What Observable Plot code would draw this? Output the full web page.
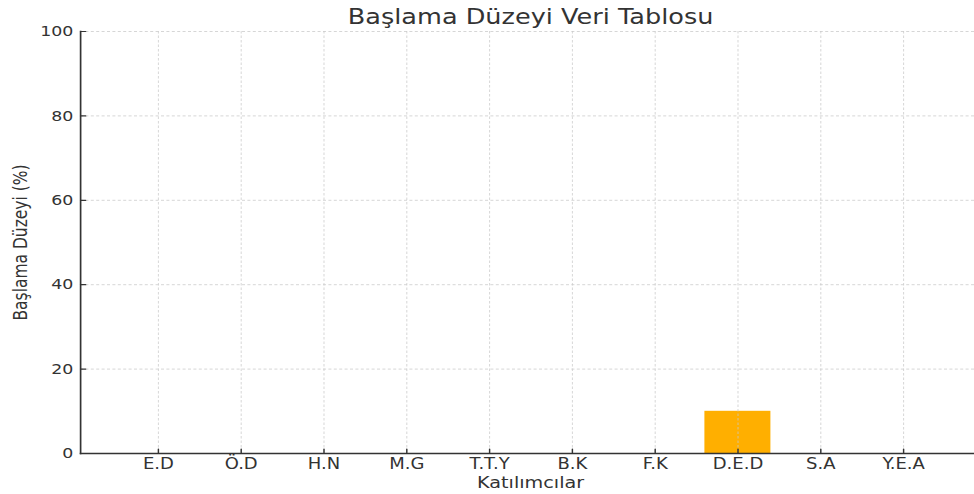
<!DOCTYPE html>
<html>
<head>
<meta charset="utf-8">
<script src="https://cdn.jsdelivr.net/npm/d3@7"></script>
<script src="https://cdn.jsdelivr.net/npm/@observablehq/plot@0.6"></script>
<style>
  html, body { margin: 0; padding: 0; overflow: hidden; background: #fff; }
  #wrap { width: 817px; transform: scaleX(1.2); transform-origin: 0 0; }
</style>
</head>
<body>
<div id="wrap"></div>
<script>
const title = "Başlama Düzeyi Veri Tablosu";
const xLabel = "Katılımcılar";
const yLabel = "Başlama Düzeyi (%)";
const categories = ["E.D", "Ö.D", "H.N", "M.G", "T.T.Y", "B.K", "F.K", "D.E.D", "S.A", "Y.E.A"];
const values = [0, 0, 0, 0, 0, 0, 0, 10, 0, 0];
const yTicks = [0, 20, 40, 60, 80, 100];

const data = categories.map((c, i) => ({category: c, value: values[i]}));
const ink = "#333";
const gridStyle = {stroke: "#c8c8c8", strokeOpacity: 0.85, strokeWidth: 0.8, strokeDasharray: "2.5,2"};
const inwardTick = {draw(context, l) { context.moveTo(0, 0); context.lineTo(0, -l); }};

const chart = Plot.plot({
  width: 817,
  height: 494,
  marginLeft: 66.67,
  marginRight: 0.33,
  marginTop: 31,
  marginBottom: 41,
  style: {fontFamily: "DejaVu Sans", color: ink, background: "#fff"},
  x: {type: "band", domain: categories, paddingInner: 0.2, paddingOuter: 0.49, label: null},
  y: {domain: [0, 100], label: null},
  marks: [
    Plot.barY(data, {x: "category", y: "value", fill: "#FFAF00"}),
    Plot.gridX(categories, {...gridStyle}),
    Plot.gridY(yTicks, {...gridStyle}),
    Plot.frame({anchor: "left", stroke: ink, strokeWidth: 1.4}),
    Plot.frame({anchor: "bottom", stroke: ink, strokeWidth: 1.4}),
    Plot.vector(categories, {x: (d) => d, frameAnchor: "bottom", anchor: "start", rotate: 0, length: 4.5, shape: inwardTick, stroke: ink, strokeWidth: 1.2}),
    Plot.vector(yTicks, {y: (d) => d, frameAnchor: "left", anchor: "start", rotate: 90, length: 4.2, shape: inwardTick, stroke: ink, strokeWidth: 1.2}),
    Plot.axisY(yTicks, {tickSize: 0, tickPadding: 6, fontSize: 14.5, fill: ink, label: null}),
    Plot.axisX(categories, {tickSize: 0, tickPadding: 5, fontSize: 15, fill: ink, label: null}),
    Plot.text([title], {frameAnchor: "top", lineAnchor: "bottom", dy: -8, fontSize: 21.3, fill: ink}),
    Plot.text([xLabel], {frameAnchor: "bottom", lineAnchor: "top", dy: 23, fontSize: 16, fill: ink}),
    Plot.text([yLabel], {frameAnchor: "left", rotate: -90, textAnchor: "middle", lineAnchor: "bottom", dx: -44.4, fontSize: 15.5, fill: ink})
  ]
});
document.getElementById("wrap").appendChild(chart);
</script>
</body>
</html>
